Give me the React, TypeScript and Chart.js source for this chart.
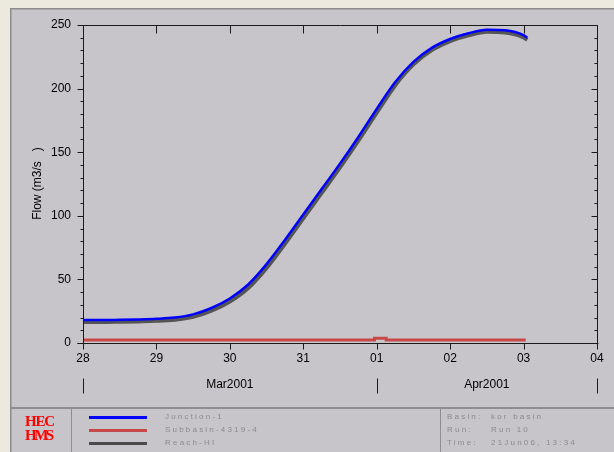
import React, { useEffect, useRef } from "react";
import Chart from "chart.js/auto";

// ---- data ----
const dayLabels = ["28", "29", "30", "31", "01", "02", "03", "04"];
const monthLabels = ["Mar2001", "Apr2001"];
const monthBounds = [0, 4, 7];

const flowTimes = [0, 0.25, 0.5, 0.75, 1, 1.25, 1.5, 1.75, 2, 2.25, 2.5, 2.75, 3, 3.25, 3.5, 3.75, 4, 4.25, 4.5, 4.75, 5, 5.25, 5.5, 5.75, 6, 6.05];
const junctionFlow = [18, 18, 18.2, 18.5, 19, 20, 22.5, 27.5, 35, 46, 62, 81, 101, 121, 141, 162, 184, 205, 221, 232, 239, 243.5, 246.3, 245.8, 242, 240];
const reachFlow = [16.5, 16.5, 16.7, 17, 17.4, 18.3, 20.6, 25.4, 32.6, 43.2, 59, 78, 98, 118, 138, 159, 181, 202.5, 219, 230.2, 237.3, 241.8, 244.6, 244.1, 240.3, 238.3];

const subTimes = [0, 3.97, 3.97, 4.13, 4.13, 6.03];
const subFlow = [2.3, 2.3, 3.8, 3.8, 2.3, 2.3];

const legendNames = ["Junction-1", "Subbasin-4319-4", "Reach-HI"];
const legendColors = ["#0000ff", "#c84848", "#4a4a4a"];
const infoKeys = ["Basin:", "Run:", "Time:"];
const infoValues = ["kor basin", "Run 10", "21Jun06, 13:34"];

const FONT = "'Liberation Sans', Arial, sans-serif";

const axesPlugin = {
  id: "hecAxes",
  afterDraw(chart: any) {
    const { ctx, chartArea } = chart;
    const xs = chart.scales.x;
    const ys = chart.scales.y;
    const L = Math.round(chartArea.left) + 0.5;
    const R = Math.round(chartArea.right) + 0.5;
    const T = Math.round(chartArea.top) + 0.5;
    const B = Math.round(chartArea.bottom) + 0.5;
    ctx.save();
    ctx.strokeStyle = "#1a1a1a";
    ctx.lineWidth = 1;
    ctx.beginPath();
    // frame
    ctx.moveTo(L, T); ctx.lineTo(R, T);
    ctx.moveTo(L, T); ctx.lineTo(L, B + 1);
    ctx.moveTo(R, T); ctx.lineTo(R, B + 1);
    ctx.moveTo(L - 6, B); ctx.lineTo(R + 1, B);
    // y ticks
    for (let v = 0; v <= 250; v += 10) {
      const y = Math.round(ys.getPixelForValue(v)) + 0.5;
      const major = v % 50 === 0;
      const len = major ? 6 : 3;
      ctx.moveTo(L - len, y); ctx.lineTo(L, y);
      ctx.moveTo(R - len, y); ctx.lineTo(R, y);
    }
    // x ticks
    for (let d = 0; d < dayLabels.length; d++) {
      const x = Math.round(xs.getPixelForValue(d)) + 0.5;
      ctx.moveTo(x, B); ctx.lineTo(x, B + 6);
      ctx.moveTo(x, T); ctx.lineTo(x, T + 8);
    }
    // month marks
    for (const mb of monthBounds) {
      const x = Math.round(xs.getPixelForValue(mb)) + 0.5;
      ctx.moveTo(x, B + 35); ctx.lineTo(x, B + 50);
    }
    ctx.stroke();
    // month labels
    ctx.fillStyle = "#000";
    ctx.font = "12px " + FONT;
    ctx.textAlign = "center";
    ctx.textBaseline = "middle";
    for (let i = 0; i < monthLabels.length; i++) {
      const x0 = xs.getPixelForValue(monthBounds[i]);
      const x1 = xs.getPixelForValue(monthBounds[i + 1]);
      ctx.fillText(monthLabels[i], (x0 + x1) / 2, B + 41);
    }
    // y title
    ctx.translate(28, (T + B) / 2 - 1);
    ctx.rotate(-Math.PI / 2);
    ctx.font = "12px " + FONT;
    ctx.fillText("Flow (m3/s   )", 0, 0);
    ctx.restore();
  },
};

function ChartCanvas() {
  const ref = useRef<HTMLCanvasElement | null>(null);
  useEffect(() => {
    if (!ref.current) return;
    const chart = new Chart(ref.current, {
      type: "line",
      data: {
        datasets: [
          {
            label: legendNames[0],
            data: flowTimes.map((t, i) => ({ x: t, y: junctionFlow[i] })),
            borderColor: legendColors[0],
            borderWidth: 2.5,
            pointRadius: 0,
            cubicInterpolationMode: "monotone",
          },
          {
            label: legendNames[1],
            data: subTimes.map((t, i) => ({ x: t, y: subFlow[i] })),
            borderColor: legendColors[1],
            borderWidth: 3,
            pointRadius: 0,
            tension: 0,
          },
          {
            label: legendNames[2],
            data: flowTimes.map((t, i) => ({ x: t, y: reachFlow[i] })),
            borderColor: "#555555",
            borderWidth: 4,
            pointRadius: 0,
            cubicInterpolationMode: "monotone",
          },
        ],
      },
      options: {
        animation: false,
        responsive: false,
        devicePixelRatio: 1,
        layout: { padding: { top: 17, right: 17, left: 0, bottom: 0 } },
        plugins: { legend: { display: false }, tooltip: { enabled: false } },
        scales: {
          x: {
            type: "linear",
            min: 0,
            max: 7,
            grid: { display: false },
            border: { display: false },
            ticks: {
              stepSize: 1,
              autoSkip: false,
              maxRotation: 0,
              padding: 0,
              color: "#000",
              font: { family: FONT, size: 12 },
              callback: (v: any) => dayLabels[Math.round(v)] ?? "",
            },
            afterFit: (s: any) => { s.height = 65; },
          },
          y: {
            min: 0,
            max: 250,
            grid: { display: false },
            border: { display: false },
            ticks: {
              stepSize: 50,
              padding: 4,
              color: "#000",
              font: { family: FONT, size: 12 },
            },
            afterFit: (s: any) => { s.width = 73; },
          },
        },
      },
      plugins: [axesPlugin],
    } as any);
    return () => chart.destroy();
  }, []);
  return <canvas ref={ref} width={604} height={400} style={{ position: "absolute", left: 0, top: 0, width: 604, height: 400 }} />;
}

export default function App() {
  useEffect(() => {
    document.body.style.margin = "0";
    document.body.style.background = "#eceadf";
  }, []);
  const legendText: React.CSSProperties = {
    position: "absolute",
    fontFamily: FONT,
    fontSize: 8,
    letterSpacing: 2.2,
    color: "#8a8a8a",
    whiteSpace: "nowrap",
    lineHeight: "10px",
  };
  const rowsY = [417, 430, 443];
  return (
    <div style={{ position: "relative", width: 614, height: 452, background: "#eceadf", overflow: "hidden" }}>
      <div style={{ position: "absolute", left: 10, top: 8, width: 604, height: 444, background: "#c7c5c9", boxShadow: "inset 1px 1px 0 #8c8c8c, inset 2px 2px 0 #a8a8a8" }}>
        <ChartCanvas />
        {/* legend box dividers */}
        <div style={{ position: "absolute", left: 0, top: 399, width: 604, height: 2, background: "#8e8e8e" }} />
        <div style={{ position: "absolute", left: 61, top: 400, width: 1, height: 44, background: "#8e8e8e" }} />
        <div style={{ position: "absolute", left: 430, top: 400, width: 1, height: 44, background: "#8e8e8e" }} />
        {/* HEC HMS logo */}
        <div style={{ position: "absolute", left: 15, top: 406, fontFamily: "'Liberation Serif', 'Times New Roman', serif", fontSize: 15, fontWeight: "bold", color: "#ff0000", lineHeight: "14px", letterSpacing: -1.2 }}>
          <div>HEC</div>
          <div style={{ letterSpacing: -2.5 }}>HMS</div>
        </div>
        {legendNames.map((n, i) => (
          <React.Fragment key={n}>
            <div style={{ position: "absolute", left: 79, top: rowsY[i] - 8 - 1.5, width: 58, height: 3, background: legendColors[i] }} />
            <div style={{ ...legendText, left: 155, top: rowsY[i] - 8 - 5 }}>{n}</div>
          </React.Fragment>
        ))}
        {infoKeys.map((k, i) => (
          <React.Fragment key={k}>
            <div style={{ ...legendText, left: 437, top: rowsY[i] - 8 - 5 }}>{k}</div>
            <div style={{ ...legendText, left: 481, top: rowsY[i] - 8 - 5 }}>{infoValues[i]}</div>
          </React.Fragment>
        ))}
      </div>
    </div>
  );
}
